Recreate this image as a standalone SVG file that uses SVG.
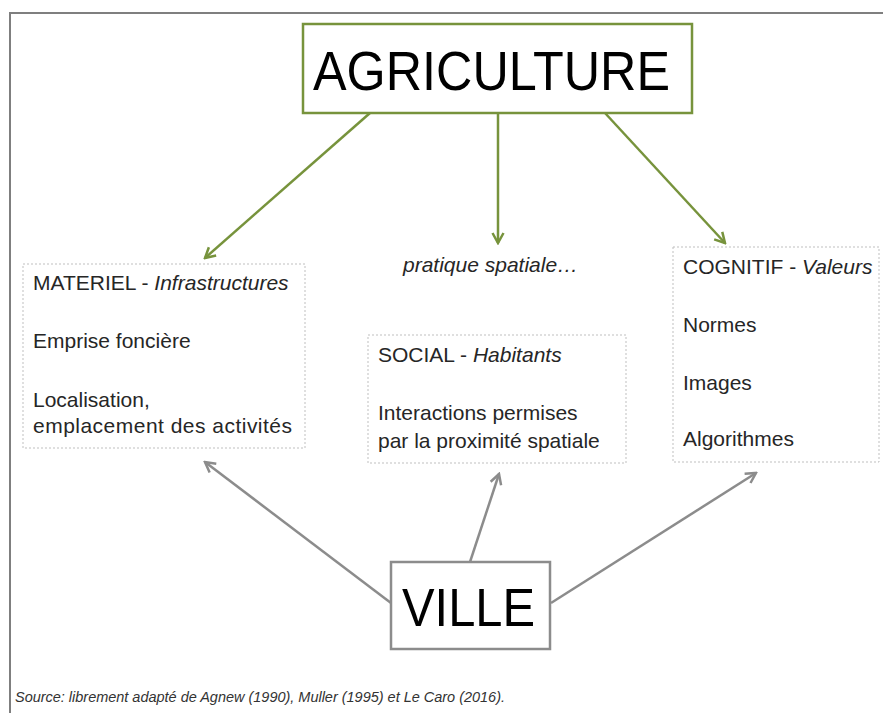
<svg xmlns="http://www.w3.org/2000/svg" width="883" height="713" viewBox="0 0 883 713">
<defs>
<style>
.frame{fill:none;stroke:#7f7f7f;stroke-width:2}
.green{fill:#ffffff;stroke:#77933c;stroke-width:2.5}
.grey{fill:#ffffff;stroke:#8c8c8c;stroke-width:2.5}
.dash{fill:#ffffff;stroke:#bfbfbf;stroke-width:1;stroke-dasharray:2 2}
.t{font-family:"Liberation Sans",Arial,sans-serif;fill:#262626;font-size:21px}
.i{font-style:italic}
.big{font-family:"Liberation Sans",Arial,sans-serif;fill:#000000}
.cg{fill:none;stroke:#77933c;stroke-width:2.5;marker-end:url(#ag)}
.cr{fill:none;stroke:#8c8c8c;stroke-width:2.5;marker-end:url(#ar)}
.src{font-family:"Liberation Sans",Arial,sans-serif;font-style:italic;font-size:14.5px;fill:#333333}
</style>
<marker id="ag" viewBox="0 0 14 14" refX="12" refY="7" markerWidth="14" markerHeight="14" markerUnits="userSpaceOnUse" orient="auto">
<path d="M2,1.5 L12,7 L2,12.5" fill="none" stroke="#77933c" stroke-width="2.5" stroke-linejoin="miter"/>
</marker>
<marker id="ar" viewBox="0 0 14 14" refX="12" refY="7" markerWidth="14" markerHeight="14" markerUnits="userSpaceOnUse" orient="auto">
<path d="M2,1.5 L12,7 L2,12.5" fill="none" stroke="#8c8c8c" stroke-width="2.5" stroke-linejoin="miter"/>
</marker>
</defs>
<rect x="0" y="0" width="883" height="713" fill="#ffffff"/>
<path class="frame" d="M10,713 V13 H883"/>
<g id="connectors">
<line class="cg" x1="370" y1="113" x2="205" y2="258"/>
<line class="cg" x1="498" y1="113" x2="498" y2="243"/>
<line class="cg" x1="605" y1="113" x2="725" y2="243"/>
<line class="cr" x1="391" y1="603" x2="205" y2="462"/>
<line class="cr" x1="470" y1="562" x2="499" y2="474"/>
<line class="cr" x1="551" y1="603" x2="756" y2="473"/>
</g>
<g id="agriculture">
<rect class="green" x="303" y="24" width="389" height="89"/>
<text class="big" x="313" y="90" font-size="56" textLength="357" lengthAdjust="spacingAndGlyphs">AGRICULTURE</text>
</g>
<g id="materiel">
<rect class="dash" x="23" y="264" width="282" height="184"/>
<text class="t" x="33" y="290">MATERIEL - <tspan class="i">Infrastructures</tspan></text>
<text class="t" x="33" y="348">Emprise foncière</text>
<text class="t" x="33" y="407">Localisation,</text>
<text class="t" x="33" y="433" textLength="259">emplacement des activités</text>
</g>
<g id="pratique">
<text class="t i" x="403" y="272">pratique spatiale…</text>
</g>
<g id="social">
<rect class="dash" x="368" y="335" width="258" height="128"/>
<text class="t" x="378" y="362">SOCIAL - <tspan class="i">Habitants</tspan></text>
<text class="t" x="378" y="420">Interactions permises</text>
<text class="t" x="378" y="448">par la proximité spatiale</text>
</g>
<g id="cognitif">
<rect class="dash" x="673" y="247" width="206" height="215"/>
<text class="t" x="683" y="274">COGNITIF - <tspan class="i">Valeurs</tspan></text>
<text class="t" x="683" y="332">Normes</text>
<text class="t" x="683" y="390">Images</text>
<text class="t" x="683" y="446">Algorithmes</text>
</g>
<g id="ville">
<rect class="grey" x="391" y="562" width="159" height="87"/>
<text class="big" x="402" y="626" font-size="54" textLength="133" lengthAdjust="spacingAndGlyphs">VILLE</text>
</g>
<g id="source">
<text class="src" x="15" y="702" textLength="490">Source: librement adapté de Agnew (1990), Muller (1995) et Le Caro (2016).</text>
</g>
</svg>
